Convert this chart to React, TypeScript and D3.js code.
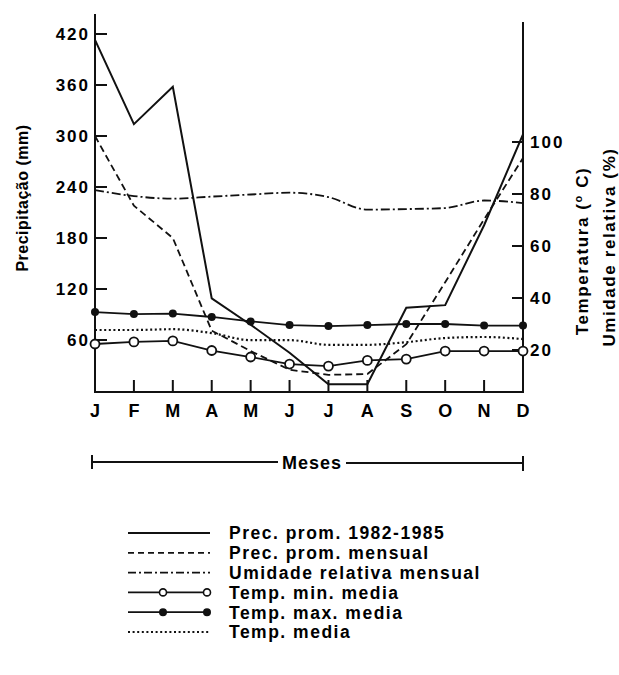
import React, { useEffect, useRef } from 'react';
import * as d3 from 'd3';

// month labels along the bottom
const months = ['J', 'F', 'M', 'A', 'M', 'J', 'J', 'A', 'S', 'O', 'N', 'D'];
const precTicks = [60, 120, 180, 240, 300, 360, 420];
const tempTicks = [20, 40, 60, 80, 100];

// series (mm on left axis, ºC / % on right axis)
const precProm = [413, 314, 358, 109, 78, 45, 8, 8, 98, 101, 195, 302];
const precMensual = [300, 218, 180, 71, 47, 25, 19, 20, 55, 128, 202, 274];
const umidade = [81.5, 79.2, 78.2, 79, 79.8, 80.5, 78.8, 74, 74.2, 74.6, 77.5, 76.5];
const tempMin = [22.3, 23.1, 23.5, 19.8, 17.3, 14.6, 13.8, 16, 16.5, 19.6, 19.6, 19.6];
const tempMax = [34.6, 33.8, 34, 32.7, 31, 29.6, 29.2, 29.6, 30, 30, 29.4, 29.4];
const tempMedia = [27.7, 27.7, 28, 26.5, 23.8, 23.8, 22, 22, 23, 24.6, 25, 24.2];

const legendLabels = [
  'Prec. prom. 1982-1985',
  'Prec. prom. mensual',
  'Umidade relativa mensual',
  'Temp. min. media',
  'Temp. max. media',
  'Temp. media',
];

const FONT = "'Liberation Sans', Arial, sans-serif";

function Chart() {
  const ref = useRef<SVGSVGElement>(null);

  useEffect(() => {
    const svg = d3.select(ref.current);
    svg.selectAll('*').remove();

    const left = 95, right = 523, bottom = 392;

    const x = d3.scalePoint<number>()
      .domain(d3.range(months.length))
      .range([left, right]);
    const yPrec = d3.scaleLinear().domain([0, 420]).range([391, 34]);
    const yTemp = d3.scaleLinear().domain([0, 100]).range([402, 142]);

    // axes frame
    const frame = svg.append('g').attr('stroke', '#111').attr('stroke-width', 2).attr('fill', 'none');
    frame.append('line').attr('x1', left).attr('x2', left).attr('y1', 14).attr('y2', bottom);
    frame.append('line').attr('x1', right).attr('x2', right).attr('y1', 22).attr('y2', bottom);
    frame.append('line').attr('x1', left - 1).attr('x2', right + 1).attr('y1', bottom).attr('y2', bottom);

    // left ticks (inward)
    const lAxis = svg.append('g');
    precTicks.forEach(t => {
      lAxis.append('line')
        .attr('x1', left).attr('x2', left + 12)
        .attr('y1', yPrec(t)).attr('y2', yPrec(t))
        .attr('stroke', '#111').attr('stroke-width', 2);
      lAxis.append('text')
        .attr('x', 90).attr('y', yPrec(t)).attr('dy', '0.36em')
        .attr('text-anchor', 'end')
        .style('font-family', FONT).style('font-size', '17px').style('font-weight', 'bold')
        .style('letter-spacing', '2px')
        .text(t);
    });

    // right ticks (inward)
    const rAxis = svg.append('g');
    tempTicks.forEach(t => {
      rAxis.append('line')
        .attr('x1', right).attr('x2', right - 11)
        .attr('y1', yTemp(t)).attr('y2', yTemp(t))
        .attr('stroke', '#111').attr('stroke-width', 2);
      rAxis.append('text')
        .attr('x', 530).attr('y', yTemp(t)).attr('dy', '0.36em')
        .style('font-family', FONT).style('font-size', '17px').style('font-weight', 'bold')
        .style('letter-spacing', '2px')
        .text(t);
    });

    // month ticks (upward) and labels
    months.forEach((m, i) => {
      if (i > 0 && i < months.length - 1) {
        svg.append('line')
          .attr('x1', x(i)!).attr('x2', x(i)!)
          .attr('y1', bottom).attr('y2', bottom - 12)
          .attr('stroke', '#111').attr('stroke-width', 2);
      }
      svg.append('text')
        .attr('x', x(i)!).attr('y', 417)
        .attr('text-anchor', 'middle')
        .style('font-family', FONT).style('font-size', '18px').style('font-weight', 'bold')
        .text(m);
    });

    // axis titles
    svg.append('text')
      .attr('transform', 'translate(28,' + 198 + ') rotate(-90)')
      .attr('text-anchor', 'middle')
      .style('font-family', FONT).style('font-size', '16px').style('font-weight', 'bold')
      .style('letter-spacing', '0.5px')
      .text('Precipitação (mm)');

    const tTitle = svg.append('text')
      .attr('transform', 'translate(588,' + 251 + ') rotate(-90)')
      .attr('text-anchor', 'middle')
      .style('font-family', FONT).style('font-size', '17px').style('font-weight', 'bold')
      .style('letter-spacing', '1.6px');
    tTitle.append('tspan').text('Temperatura (');
    tTitle.append('tspan').attr('dy', -6).style('font-size', '11px').text('o');
    tTitle.append('tspan').attr('dy', 6).text(' C)');

    svg.append('text')
      .attr('transform', 'translate(615,' + 247 + ') rotate(-90)')
      .attr('text-anchor', 'middle')
      .style('font-family', FONT).style('font-size', '17px').style('font-weight', 'bold')
      .style('letter-spacing', '1.6px')
      .text('Umidade relativa (%)');

    // Meses bracket
    const mes = svg.append('g').attr('stroke', '#111').attr('stroke-width', 2);
    mes.append('line').attr('x1', 92).attr('x2', 278).attr('y1', 462).attr('y2', 462);
    mes.append('line').attr('x1', 346).attr('x2', 523).attr('y1', 463).attr('y2', 463);
    mes.append('line').attr('x1', 92).attr('x2', 92).attr('y1', 455).attr('y2', 469);
    mes.append('line').attr('x1', 523).attr('x2', 523).attr('y1', 456).attr('y2', 471);
    svg.append('text')
      .attr('x', 312).attr('y', 469)
      .attr('text-anchor', 'middle')
      .style('font-family', FONT).style('font-size', '18px').style('font-weight', 'bold')
      .style('letter-spacing', '1px')
      .text('Meses');

    const lineP = d3.line<number>().x((d, i) => x(i)!).y(d => yPrec(d));
    const lineT = d3.line<number>().x((d, i) => x(i)!).y(d => yTemp(d));
    const curveT = d3.line<number>().x((d, i) => x(i)!).y(d => yTemp(d)).curve(d3.curveMonotoneX);

    const styles = [
      { dash: null, w: 2 },
      { dash: '7,4', w: 1.8 },
      { dash: '9,3,2,3', w: 1.8 },
      { dash: null, w: 1.8 },
      { dash: null, w: 1.8 },
      { dash: '2,2.6', w: 2.2 },
    ];

    const plot = svg.append('g').attr('fill', 'none').attr('stroke', '#111');
    plot.append('path').attr('d', lineP(precProm)).attr('stroke-width', styles[0].w);
    plot.append('path').attr('d', lineP(precMensual)).attr('stroke-width', styles[1].w).attr('stroke-dasharray', styles[1].dash);
    plot.append('path').attr('d', curveT(umidade)).attr('stroke-width', styles[2].w).attr('stroke-dasharray', styles[2].dash);
    plot.append('path').attr('d', curveT(tempMedia)).attr('stroke-width', styles[5].w).attr('stroke-dasharray', styles[5].dash);
    plot.append('path').attr('d', lineT(tempMin)).attr('stroke-width', styles[3].w);
    plot.append('path').attr('d', lineT(tempMax)).attr('stroke-width', styles[4].w);

    svg.selectAll('.minpt').data(tempMin).enter().append('circle')
      .attr('class', 'minpt')
      .attr('cx', (d, i) => x(i)!).attr('cy', d => yTemp(d)).attr('r', 4.5)
      .attr('fill', '#fff').attr('stroke', '#111').attr('stroke-width', 1.8);
    svg.selectAll('.maxpt').data(tempMax).enter().append('circle')
      .attr('class', 'maxpt')
      .attr('cx', (d, i) => x(i)!).attr('cy', d => yTemp(d)).attr('r', 4)
      .attr('fill', '#111');

    // legend
    const lg = svg.append('g');
    legendLabels.forEach((label, i) => {
      const ly = 533 + i * 19.8;
      const st = styles[i];
      lg.append('line')
        .attr('x1', 128).attr('x2', 210).attr('y1', ly).attr('y2', ly)
        .attr('stroke', '#111').attr('stroke-width', st.w)
        .attr('stroke-dasharray', i === 1 ? '6,4' : i === 2 ? '8,3,2,3' : st.dash);
      if (i === 3 || i === 4) {
        [163, 207].forEach(cx => {
          lg.append('circle')
            .attr('cx', cx).attr('cy', ly).attr('r', i === 3 ? 3.5 : 3.2)
            .attr('fill', i === 3 ? '#fff' : '#111')
            .attr('stroke', '#111').attr('stroke-width', 1.6);
        });
      }
      lg.append('text')
        .attr('x', 229).attr('y', ly).attr('dy', '0.36em')
        .style('font-family', FONT).style('font-size', '17.5px').style('font-weight', 'bold')
        .style('letter-spacing', '1.5px')
        .text(label);
    });
  }, []);

  return (
    <svg ref={ref} width={619} height={675}
      style={{ position: 'absolute', left: 0, top: 0, background: '#fff' }} />
  );
}

export default function App() {
  return <Chart />;
}
